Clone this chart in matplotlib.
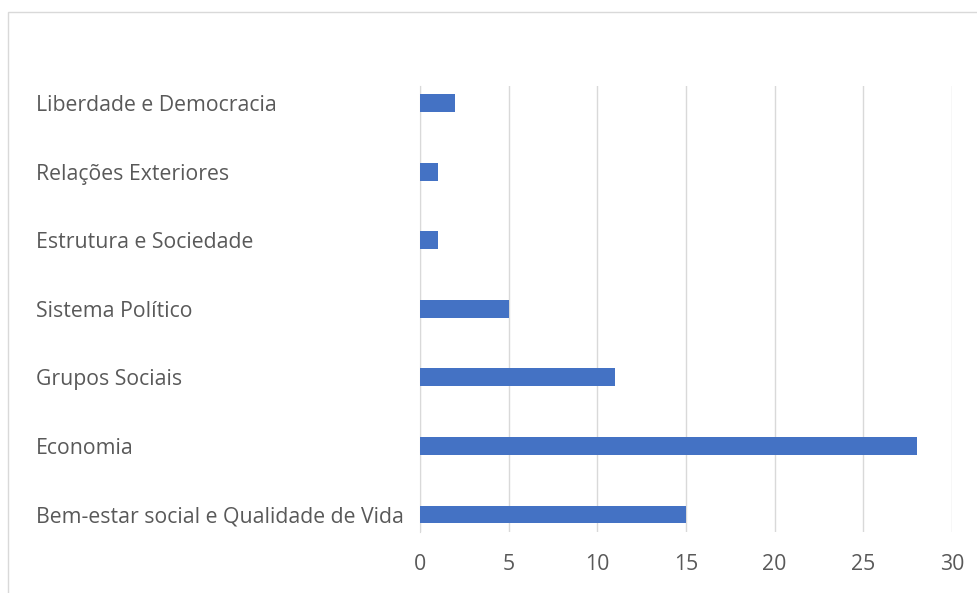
import matplotlib
matplotlib.use("Agg")
import matplotlib.pyplot as plt
from matplotlib.patches import Rectangle

# dados (de baixo para cima)
categorias = ["Bem-estar social e Qualidade de Vida", "Economia", "Grupos Sociais",
              "Sistema Político", "Estrutura e Sociedade", "Relações Exteriores",
              "Liberdade e Democracia"]
valores = [15, 28, 11, 5, 1, 1, 2]
ticks_x = [0, 5, 10, 15, 20, 25, 30]

plt.rcParams['font.family'] = ['Open Sans', 'DejaVu Sans']

fig = plt.figure(figsize=(9.78, 5.93), dpi=100)
fig.patch.set_facecolor('white')

# moldura cinza do gráfico
fig.patches.append(Rectangle((8 / 978, -0.1), 1.2, 1.1 - 12 / 593,
                             transform=fig.transFigure, fill=False,
                             edgecolor='#d9d9d9', linewidth=1))

ax = fig.add_axes([420 / 978, 61 / 593, 532 / 978, 446 / 593])
y = range(len(categorias))
ax.barh(y, valores, height=0.26, color='#4472c4', zorder=3)

ax.set_xlim(0, 30)
ax.set_ylim(-0.255, len(categorias) - 1 + 0.25)
ax.set_xticks(ticks_x)
ax.set_yticks(list(y))
ax.set_yticklabels(categorias, ha='left')
ax.tick_params(axis='y', length=0, pad=384 * 72 / 100, labelsize=15.3, labelcolor='#595959')
ax.tick_params(axis='x', length=0, pad=16, labelsize=15.3, labelcolor='#595959')

ax.grid(True, axis='x', color='#d9d9d9', linewidth=1, zorder=0)
for s in ['top', 'right', 'bottom']:
    ax.spines[s].set_visible(False)
ax.spines['left'].set_color('#d9d9d9')

fig.savefig("out.png", dpi=100)
